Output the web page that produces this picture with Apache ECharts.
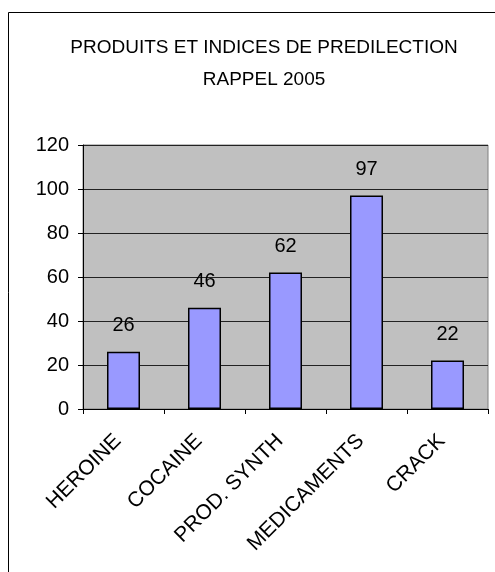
<!DOCTYPE html>
<html>
<head>
<meta charset="utf-8">
<script src="https://cdn.jsdelivr.net/npm/echarts@6/dist/echarts.min.js"></script>
<style>
html,body{margin:0;padding:0;background:#fff;}
#chart{width:495px;height:572px;}
</style>
</head>
<body>
<div id="chart"></div>
<script>
const titleLines = ['PRODUITS ET INDICES DE PREDILECTION', 'RAPPEL 2005'];
const categories = ['HEROINE', 'COCAINE', 'PROD. SYNTH', 'MEDICAMENTS', 'CRACK'];
const values = [26, 46, 62, 97, 22];
const yMin = 0, yMax = 120, yStep = 20;

const FONT = '"Liberation Sans", Arial, sans-serif';
const chart = echarts.init(document.getElementById('chart'), null, {renderer: 'canvas'});
chart.setOption({
  animation: false,
  backgroundColor: '#ffffff',
  title: {
    text: titleLines.join('\n'),
    left: 259,
    textAlign: 'center',
    top: 27,
    textStyle: {fontFamily: FONT, fontSize: 19, fontWeight: 'normal', color: '#000', lineHeight: 32}
  },
  graphic: [{
    type: 'rect',
    shape: {x: 8.5, y: 12.5, width: 600, height: 700},
    style: {fill: 'none', stroke: '#000', lineWidth: 1},
    silent: true
  }],
  grid: {left: 83, right: 7, top: 145, bottom: 163, show: true, backgroundColor: '#C0C0C0', borderColor: '#808080', borderWidth: 1},
  xAxis: {
    type: 'category',
    data: categories,
    axisLine: {lineStyle: {color: '#000', width: 1}},
    axisTick: {show: true, length: 5, lineStyle: {color: '#000'}},
    axisLabel: {rotate: 45, margin: 23, padding: [0, 8, 0, 0], color: '#000', fontFamily: FONT, fontSize: 21, interval: 0}
  },
  yAxis: {
    type: 'value',
    min: yMin, max: yMax, interval: yStep,
    axisLine: {show: true, lineStyle: {color: '#000', width: 1}},
    axisTick: {show: true, length: 5, lineStyle: {color: '#000'}},
    axisLabel: {margin: 14, color: '#000', fontFamily: FONT, fontSize: 20},
    splitLine: {show: true, lineStyle: {color: '#222', width: 1}}
  },
  series: [{
    type: 'bar',
    data: values,
    barWidth: 33,
    itemStyle: {color: '#9999FF', borderColor: '#000', borderWidth: 1.5},
    label: {show: true, position: 'top', distance: 16, color: '#000', fontFamily: FONT, fontSize: 20}
  }]
});
</script>
</body>
</html>
